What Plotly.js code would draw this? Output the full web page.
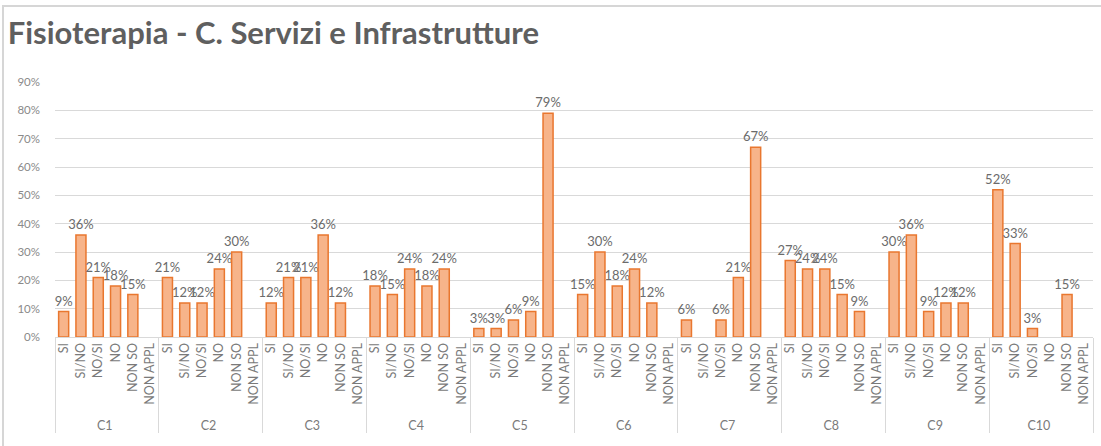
<!DOCTYPE html>
<html>
<head>
<meta charset="utf-8">
<script src="https://cdn.plot.ly/plotly-3.0.1.min.js"></script>
<style>
  html, body { margin: 0; padding: 0; background: #fff; }
  #wrap { position: relative; width: 1101px; height: 446px; overflow: hidden; }
  #chart { position: absolute; left: 0; top: 0; width: 1101px; height: 446px; }
  #bt { position: absolute; left: 3px; top: 5px; width: 1098px; height: 2px; background: #d6d6d6; z-index: 5; }
  #bl { position: absolute; left: 2px; top: 5px; width: 2px; height: 441px; background: #d6d6d6; z-index: 5; }
</style>
</head>
<body>
<div id="wrap">
  <div id="chart"></div>
  <div id="bt"></div>
  <div id="bl"></div>
</div>
<script>
const groups = ["C1","C2","C3","C4","C5","C6","C7","C8","C9","C10"];
const answers = ["SI","SI/NO","NO/SI","NO","NON SO","NON APPL"];
// percentages per group, in answer order (null = no bar)
const C1  = [9, 36, 21, 18, 15, null];
const C2  = [21, 12, 12, 24, 30, null];
const C3  = [12, 21, 21, 36, 12, null];
const C4  = [18, 15, 24, 18, 24, null];
const C5  = [3, 3, 6, 9, 79, null];
const C6  = [15, 30, 18, 24, 12, null];
const C7  = [6, null, 6, 21, 67, null];
const C8  = [27, 24, 24, 15, 9, null];
const C9  = [30, 36, 9, 12, 12, null];
const C10 = [52, 33, 3, null, 15, null];
const yTicks = [0,10,20,30,40,50,60,70,80,90];

const seriesByGroup = [C1,C2,C3,C4,C5,C6,C7,C8,C9,C10];
const xOuter = [], xInner = [], yVals = [];
groups.forEach((g, gi) => {
  answers.forEach((a, ai) => {
    xOuter.push(g);
    xInner.push(a);
    const v = seriesByGroup[gi][ai];
    yVals.push(v === null ? null : v / 100);
  });
});

const trace = {
  type: 'bar',
  x: [xOuter, xInner],
  y: yVals,
  marker: { color: '#F7B48A', line: { color: '#E9772F', width: 1.5 } },
  texttemplate: '%{y:.0%}',
  textposition: 'outside',
  constraintext: 'none',
  cliponaxis: false,
  textfont: { family: 'Lato, sans-serif', size: 13, color: '#6b6b6b' },
  hoverinfo: 'skip'
};

const layout = {
  width: 1101, height: 446,
  margin: { l: 55, r: 8, t: 82, b: 109 },
  paper_bgcolor: '#fff', plot_bgcolor: '#fff',
  showlegend: false,
  bargap: 0.42,
  title: {
    text: '<b>Fisioterapia - C. Servizi e Infrastrutture</b>',
    font: { family: 'Lato, sans-serif', size: 31, color: '#5f5f5f' },
    x: 0.007, xanchor: 'left', xref: 'container',
    y: 0.925, yanchor: 'middle', yref: 'container'
  },
  font: { family: 'Lato, sans-serif', color: '#7a7a7a' },
  xaxis: {
    type: 'multicategory',
    tickangle: -90,
    tickfont: { size: 12.5, color: '#7a7a7a' },
    showdividers: true,
    dividercolor: '#d9d9d9',
    dividerwidth: 1,
    showline: true, linecolor: '#d9d9d9', linewidth: 1,
    ticks: '',
    showgrid: false
  },
  yaxis: {
    range: [0, 0.9],
    tickvals: yTicks.map(v => v / 100),
    ticktext: yTicks.map(v => v + '%'),
    tickfont: { size: 11.5, color: '#8a8a8a' },
    showgrid: true, gridcolor: '#d9d9d9', gridwidth: 1,
    zeroline: false,
    showline: false,
    ticks: '',
    ticklabelstandoff: 14
  }
};

Plotly.newPlot('chart', [trace], layout, { displayModeBar: false, staticPlot: true });
</script>
</body>
</html>
